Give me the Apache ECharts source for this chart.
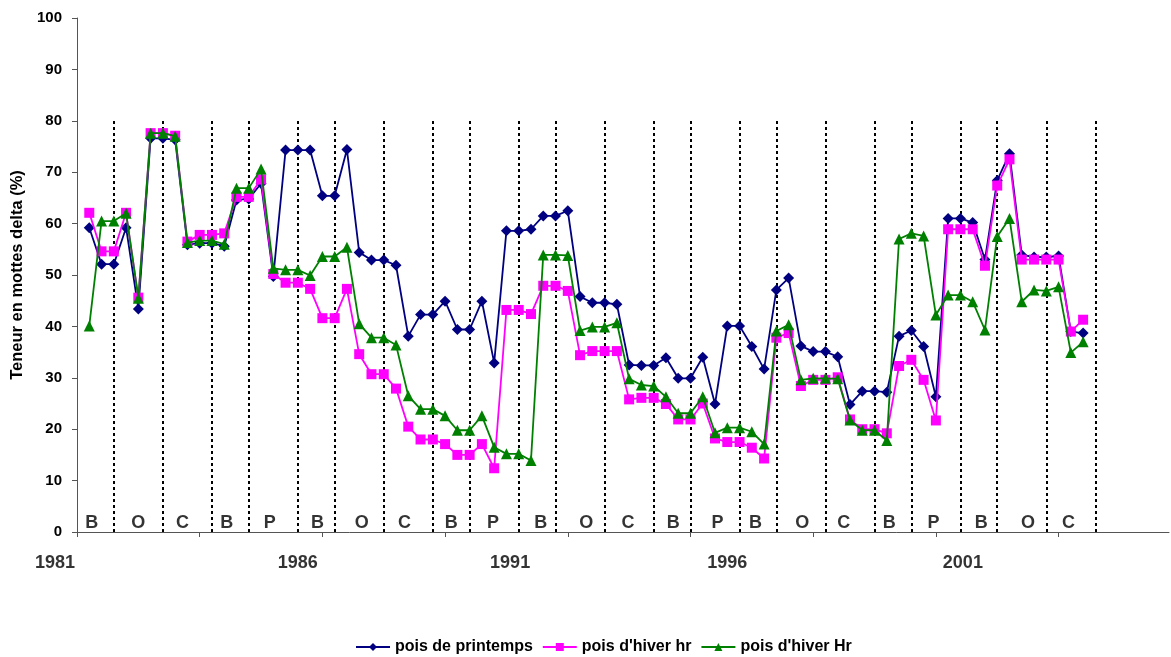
<!DOCTYPE html>
<html>
<head>
<meta charset="utf-8">
<script src="https://cdn.jsdelivr.net/npm/echarts@6/dist/echarts.min.js"></script>
<style>
  html, body { margin: 0; padding: 0; background: #fff; }
  #chart { width: 1171px; height: 657px; }
</style>
</head>
<body>
<div id="chart"></div>
<script>
// Seasonal readings (one value per season slot, slots 1..82)
const printemps = [
  59.2, 52.1, 52.1, 59.2, 43.4, 76.6, 76.6, 76.3, 55.9, 56.2,
  56.2, 55.6, 64.6, 64.8, 67.8, 49.7, 74.3, 74.3, 74.3, 65.4,
  65.4, 74.4, 54.4, 52.9, 52.9, 51.9, 38.1, 42.3, 42.3, 44.9,
  39.4, 39.4, 44.9, 32.9, 58.6, 58.6, 58.9, 61.5, 61.5, 62.5,
  45.8, 44.6, 44.6, 44.3, 32.5, 32.4, 32.4, 33.9, 29.9, 29.9,
  34.0, 24.9, 40.1, 40.1, 36.1, 31.7, 47.1, 49.4, 36.2, 35.1,
  35.1, 34.1, 24.8, 27.4, 27.4, 27.2, 38.1, 39.2, 36.1, 26.3,
  61.0, 61.0, 60.2, 53.0, 68.4, 73.6, 53.9, 53.5, 53.5, 53.7,
  39.0, 38.7
];
const hiverHrMin = [
  62.1, 54.6, 54.6, 62.1, 45.6, 77.6, 77.6, 77.1, 56.5, 57.8,
  57.8, 58.1, 65.2, 65.2, 68.6, 50.2, 48.5, 48.5, 47.3, 41.6,
  41.6, 47.3, 34.6, 30.7, 30.7, 27.9, 20.5, 18.0, 18.0, 17.1,
  15.0, 15.0, 17.1, 12.4, 43.2, 43.2, 42.4, 47.9, 47.9, 46.9,
  34.4, 35.2, 35.2, 35.2, 25.8, 26.1, 26.1, 24.9, 21.9, 21.9,
  25.0, 18.2, 17.5, 17.5, 16.4, 14.3, 37.8, 38.7, 28.4, 29.6,
  29.6, 30.1, 21.9, 20.0, 20.0, 19.2, 32.3, 33.5, 29.6, 21.7,
  58.9, 58.9, 58.9, 51.8, 67.4, 72.5, 53.0, 53.0, 53.0, 53.0,
  39.0, 41.3
];
const hiverHrMaj = [
  40.1, 60.5, 60.5, 62.0, 45.5, 77.6, 77.6, 77.0, 56.3, 56.7,
  56.7, 56.0, 66.9, 66.9, 70.6, 51.3, 51.0, 51.0, 49.9, 53.6,
  53.6, 55.4, 40.5, 37.8, 37.8, 36.4, 26.5, 23.9, 23.9, 22.6,
  19.8, 19.8, 22.6, 16.5, 15.2, 15.2, 13.9, 53.9, 53.9, 53.8,
  39.2, 39.9, 39.9, 40.7, 29.8, 28.6, 28.4, 26.3, 23.1, 23.1,
  26.3, 19.3, 20.3, 20.3, 19.5, 17.1, 39.1, 40.3, 29.6, 29.9,
  29.9, 29.8, 21.8, 19.8, 19.8, 17.8, 57.0, 58.1, 57.6, 42.2,
  46.1, 46.1, 44.8, 39.3, 57.5, 61.0, 44.8, 47.1, 46.9, 47.7,
  34.9, 37.0
];

// Season-slot boundaries drawn as dotted separators
const periodBounds = [3, 7, 11, 14, 18, 21, 25, 29, 32, 36, 39, 43, 47, 50, 54, 57, 61, 65, 68, 72, 75, 79, 83];
// Crop letters within each period
const cropLetters = ['B','O','C','B','P','B','O','C','B','P','B','O','C','B','P','B','O','C','B','P','B','O','C'];
const cropLetterPos = [1.2, 5.0, 8.6, 12.2, 15.7, 19.6, 23.2, 26.7, 30.5, 33.9, 37.8, 41.5, 44.9, 48.6, 52.2, 55.3, 59.1, 62.5, 66.2, 69.8, 73.7, 77.5, 80.8];
// Year labels under the axis
const yearLabels = ['1981', '1986', '1991', '1996', '2001'];
const yearLabelPos = [-1.8, 18.0, 35.3, 53.0, 72.2];
const xTicks = [0, 10, 20, 30, 40, 50, 60, 70, 80];
const slotCount = 89;

const FONT = '"Liberation Sans", Arial, sans-serif';
const toPoints = arr => arr.map((v, i) => [i + 1, v]);

const chart = echarts.init(document.getElementById('chart'), null, { renderer: 'canvas' });
chart.setOption({
  animation: false,
  backgroundColor: '#ffffff',
  textStyle: { fontFamily: FONT },
  grid: { left: 77, right: 2, top: 18, bottom: 125, outerBoundsMode: 'none', containLabel: false },
  xAxis: {
    type: 'value', min: 0, max: slotCount,
    axisLine: { show: true, lineStyle: { color: '#555', width: 1 } },
    axisTick: { show: true, customValues: xTicks, length: 5, lineStyle: { color: '#555' } },
    axisLabel: { show: false },
    splitLine: { show: false }
  },
  yAxis: {
    type: 'value', min: 0, max: 100, interval: 10,
    name: 'Teneur en mottes delta (%)',
    nameLocation: 'middle', nameGap: 46, nameRotate: 90,
    nameTextStyle: { fontFamily: FONT, fontWeight: 'bold', fontSize: 16.5, color: '#000' },
    axisLine: { show: true, lineStyle: { color: '#555', width: 1 } },
    axisTick: { show: true, length: 5, lineStyle: { color: '#555' } },
    axisLabel: { fontFamily: FONT, fontWeight: 'bold', fontSize: 15, color: '#000', margin: 15 },
    splitLine: { show: false }
  },
  legend: {
    top: 634, left: 350,
    data: ['pois de printemps', "pois d'hiver hr", "pois d'hiver Hr"],
    itemWidth: 34, itemHeight: 10, itemGap: 9,
    textStyle: { fontFamily: FONT, fontWeight: 'bold', fontSize: 16, color: '#000' }
  },
  series: [
    {
      type: 'lines', coordinateSystem: 'cartesian2d', silent: true, z: 1,
      lineStyle: { color: '#000', width: 2, type: [3, 3], opacity: 1 },
      data: periodBounds.map(x => ({ coords: [[x, 0], [x, 80]] }))
    },
    {
      name: 'pois de printemps', type: 'line', data: toPoints(printemps), z: 3,
      symbol: 'diamond', symbolSize: 11,
      lineStyle: { color: '#000080', width: 1.8 },
      itemStyle: { color: '#000080' }
    },
    {
      name: "pois d'hiver hr", type: 'line', data: toPoints(hiverHrMin), z: 4,
      symbol: 'rect', symbolSize: 10,
      lineStyle: { color: '#FF00FF', width: 1.8 },
      itemStyle: { color: '#FF00FF' }
    },
    {
      name: "pois d'hiver Hr", type: 'line', data: toPoints(hiverHrMaj), z: 5,
      symbol: 'triangle', symbolSize: 11,
      lineStyle: { color: '#008000', width: 1.8 },
      itemStyle: { color: '#008000' }
    },
    {
      type: 'scatter', silent: true, z: 2,
      symbolSize: 1, itemStyle: { color: 'transparent' },
      label: { show: true, position: 'inside', formatter: '{b}', fontFamily: FONT, fontWeight: 'bold', fontSize: 18, color: '#000' },
      data: cropLetters.map((c, i) => ({ name: c, value: [cropLetterPos[i], 1.8] }))
    },
    {
      type: 'scatter', silent: true, clip: false, z: 2,
      symbolSize: 1, itemStyle: { color: 'transparent' },
      label: { show: true, position: 'inside', formatter: '{b}', fontFamily: FONT, fontWeight: 'bold', fontSize: 18, color: '#000' },
      data: yearLabels.map((y, i) => ({ name: y, value: [yearLabelPos[i], -6] }))
    }
  ]
});
</script>
</body>
</html>
